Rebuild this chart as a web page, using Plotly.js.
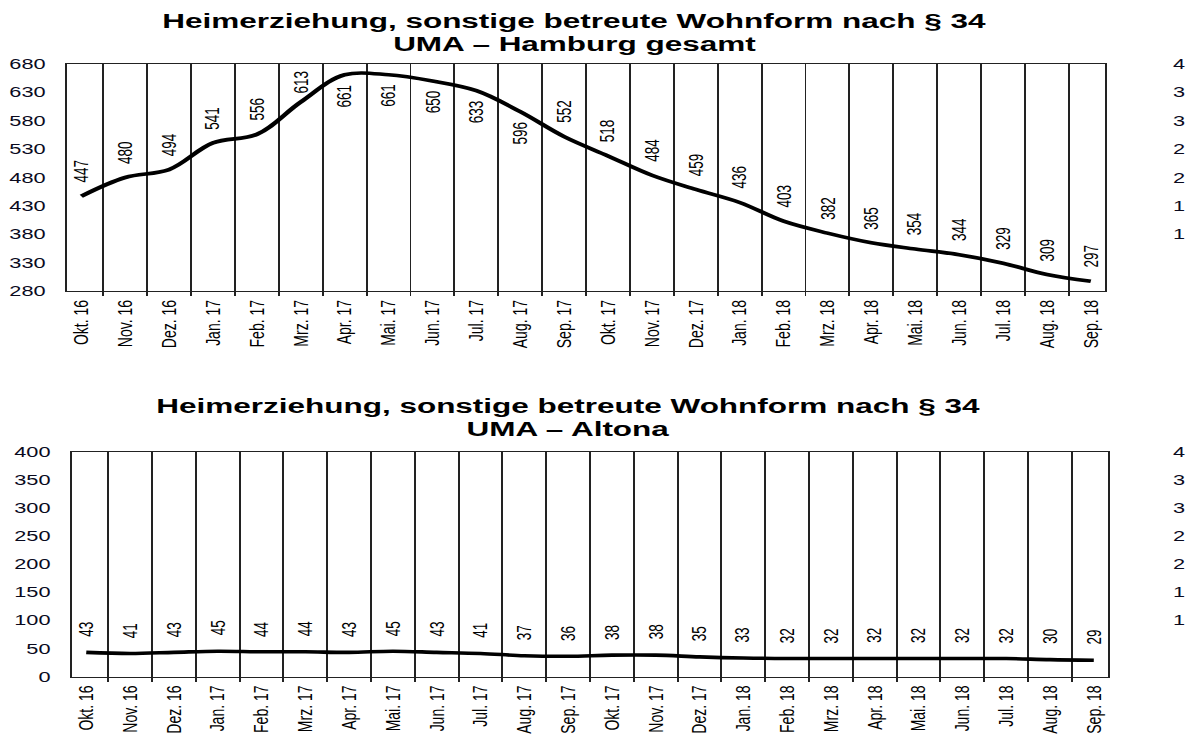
<!DOCTYPE html>
<html>
<head>
<meta charset="utf-8">
<script src="https://cdn.plot.ly/plotly-3.0.1.min.js"></script>
<style>
html,body{margin:0;padding:0;overflow:hidden;width:1197px;height:736px;background:#fff}
#wrap{width:1197px;height:736px;overflow:hidden;position:relative}
#chart{width:1000px;height:736px;transform:scaleX(1.5);transform-origin:0 0}
</style>
</head>
<body>
<div id="wrap"><div id="chart"></div></div>
<script>
const categories = ['Okt. 16','Nov. 16','Dez. 16','Jan. 17','Feb. 17','Mrz. 17','Apr. 17','Mai. 17','Jun. 17','Jul. 17','Aug. 17','Sep. 17','Okt. 17','Nov. 17','Dez. 17','Jan. 18','Feb. 18','Mrz. 18','Apr. 18','Mai. 18','Jun. 18','Jul. 18','Aug. 18','Sep. 18'];
const hamburg = [447,480,494,541,556,613,661,661,650,633,596,552,518,484,459,436,403,382,365,354,344,329,309,297];
const altona = [43,41,43,45,44,44,43,45,43,41,37,36,38,38,35,33,32,32,32,32,32,32,30,29];
const hamburgLabelsBelow = ['Apr. 17','Mai. 17','Jun. 17','Jul. 17','Aug. 17'];
// the neighbouring (cropped) chart's axis: only the first digit of each label is visible
const rightTickVals = [100,150,200,250,300,350,400];
const rightTickText = ['1','1','2','2','3','3','4'];
const titleLine1 = 'Heimerziehung, sonstige betreute Wohnform nach § 34';
const titleHamburg = 'UMA – Hamburg gesamt';
const titleAltona = 'UMA – Altona';

const FONT = 'Liberation Sans, Arial, sans-serif';
const W = 1000, H = 736;
const px = v => 1 - v / H;

const lineStyle = {color:'#000', width:3.6, shape:'spline', smoothing:1};
const traces = [
  {x:categories, y:hamburg, type:'scatter', mode:'lines', line:lineStyle, xaxis:'x', yaxis:'y', hoverinfo:'x+y'},
  {x:categories, y:altona, type:'scatter', mode:'lines', line:lineStyle, xaxis:'x2', yaxis:'y2', hoverinfo:'x+y'},
  {x:[], y:[], type:'scatter', mode:'lines', xaxis:'x3', yaxis:'y3'},
  {x:[], y:[], type:'scatter', mode:'lines', xaxis:'x4', yaxis:'y4'}
];

function xAxis(domain, anchor){
  return {domain:domain, anchor:anchor, type:'category', tickson:'boundaries',
    showgrid:true, gridcolor:'#222', gridwidth:1.3,
    showline:true, linecolor:'#222', linewidth:1.4, mirror:true,
    ticks:'outside', ticklen:4, tickcolor:'#222', tickwidth:1.3, ticklabelstandoff:2,
    tickangle:-90, tickfont:{family:FONT, size:14, color:'#000'},
    zeroline:false, fixedrange:true};
}
function yAxis(domain, anchor, range, tick0){
  return {domain:domain, anchor:anchor, range:range, dtick:50, tick0:tick0,
    showgrid:false, zeroline:false,
    showline:true, linecolor:'#222', linewidth:1.4, mirror:true,
    ticks:'', ticklabelstandoff:10,
    tickfont:{family:FONT, size:14.5, color:'#0a0a1e'}, fixedrange:true};
}
function rightAxis(domain, anchor){
  return {domain:domain, anchor:anchor, range:[0,400], tickmode:'array',
    tickvals:rightTickVals, ticktext:rightTickText,
    showgrid:false, zeroline:false, showline:false, ticks:'', ticklabelstandoff:10,
    tickfont:{family:FONT, size:14.5, color:'#0a0a1e'}, fixedrange:true};
}

const topY = [px(291), px(64)];
const botY = [px(676.5), px(452)];

const layout = {
  width:W, height:H, margin:{l:0,r:0,t:0,b:0},
  paper_bgcolor:'#fff', plot_bgcolor:'#fff', showlegend:false,
  xaxis: xAxis([44.7/W, 736.7/W], 'y'),
  yaxis: yAxis(topY, 'x', [280,680], 280),
  xaxis2: xAxis([48/W, 738.7/W], 'y2'),
  yaxis2: yAxis(botY, 'x2', [0,400], 0),
  xaxis3: {domain:[0.801,0.99], anchor:'y3', visible:false, range:[0,1]},
  yaxis3: rightAxis(topY, 'x3'),
  xaxis4: {domain:[0.801,0.99], anchor:'y4', visible:false, range:[0,1]},
  yaxis4: rightAxis(botY, 'x4'),
  annotations: []
};

// titles
const tFont = {family:FONT, size:21, color:'#000'};
layout.annotations.push(
  {xref:'paper', yref:'paper', x:383.3/W, y:px(20.5), text:'<b>'+titleLine1+'</b>', showarrow:false, xanchor:'center', yanchor:'middle', font:tFont},
  {xref:'paper', yref:'paper', x:383.3/W, y:px(43.5), text:'<b>'+titleHamburg+'</b>', showarrow:false, xanchor:'center', yanchor:'middle', font:tFont},
  {xref:'paper', yref:'paper', x:378.7/W, y:px(405.5), text:'<b>'+titleLine1+'</b>', showarrow:false, xanchor:'center', yanchor:'middle', font:tFont},
  {xref:'paper', yref:'paper', x:378.7/W, y:px(428.5), text:'<b>'+titleAltona+'</b>', showarrow:false, xanchor:'center', yanchor:'middle', font:tFont}
);

// data labels (kept inside the plot area near the top edge)
const lFont = {family:FONT, size:13.5, color:'#000'};
const topMax = 680;
categories.forEach((c, i) => {
  const below = hamburgLabelsBelow.includes(c);
  const nearTop = !below && hamburg[i] > topMax - 80;
  layout.annotations.push({xref:'x', yref:'y', x:c, y:hamburg[i], text:String(hamburg[i]),
    textangle:-90, showarrow:false, xanchor:'center', yanchor:'middle',
    yshift: below ? -21 : (nearTop ? 20 : 25), font:lFont});
  layout.annotations.push({xref:'x2', yref:'y2', x:c, y:altona[i], text:String(altona[i]),
    textangle:-90, showarrow:false, xanchor:'center', yanchor:'middle', yshift:23, font:lFont});
});

Plotly.newPlot('chart', traces, layout, {displayModeBar:false, staticPlot:true});
</script>
</body>
</html>
